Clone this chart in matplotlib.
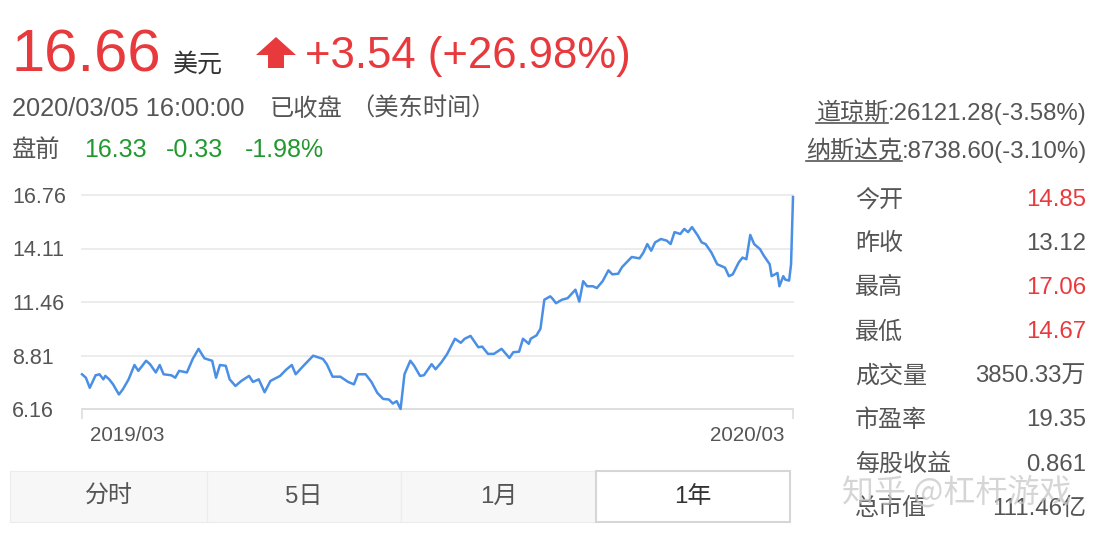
import numpy as np
import matplotlib
matplotlib.use("Agg")
import matplotlib.pyplot as plt
from matplotlib.patches import Rectangle, Polygon

plt.rcParams['font.family'] = ['Liberation Sans', 'Noto Sans CJK SC', 'DejaVu Sans']

## DATA

# days since 2019/03/05 and close price (USD)
DAYS = [0, 2, 4, 7, 9, 11, 12, 14, 16, 19, 21, 24, 27, 29, 33, 35, 38, 40, 42, 46,
        48, 50, 54, 57, 60, 63, 67, 69, 71, 74, 76, 79, 82, 86, 88, 91, 94, 97, 102, 105,
        108, 110, 114, 119, 124, 126, 129, 133, 137, 140, 142, 146, 149, 152, 155, 158, 160, 162, 164, 166,
        169, 171, 174, 176, 180, 182, 185, 188, 192, 195, 197, 200, 204, 206, 209, 212, 216, 220, 222, 225,
        227, 230, 231, 234, 236, 238, 241, 242, 244, 247, 250, 254, 256, 258, 260, 263, 265, 268, 271, 273,
        276, 278, 281, 283, 287, 289, 291, 293, 295, 298, 301, 303, 305, 308, 310, 312, 314, 317, 319, 321,
        324, 327, 331, 333, 335, 338, 340, 342, 344, 346, 349, 351, 354, 355, 358, 359, 361, 362, 364, 365,
        366]
PRICE = [7.88, 7.71, 7.21, 7.83, 7.88, 7.63, 7.80, 7.63, 7.38, 6.88, 7.13, 7.63, 8.34, 8.05, 8.55, 8.38, 7.97, 8.34, 7.88, 7.83,
         7.71, 8.05, 7.97, 8.64, 9.14, 8.67, 8.55, 7.71, 8.34, 8.30, 7.63, 7.30, 7.55, 7.80, 7.50, 7.63, 6.99, 7.55, 7.80, 8.10,
         8.34, 7.88, 8.30, 8.80, 8.64, 8.38, 7.76, 7.76, 7.50, 7.38, 7.88, 7.88, 7.50, 6.96, 6.66, 6.63, 6.43, 6.55, 6.16, 7.88,
         8.55, 8.30, 7.80, 7.83, 8.38, 8.13, 8.47, 8.89, 9.64, 9.44, 9.64, 9.78, 9.22, 9.25, 8.89, 8.89, 9.14, 8.69, 8.97, 9.00,
         9.64, 9.39, 9.64, 9.81, 10.14, 11.57, 11.74, 11.65, 11.40, 11.57, 11.65, 12.07, 11.48, 12.49, 12.24, 12.24, 12.15, 12.49, 13.03, 12.83,
         12.86, 13.19, 13.49, 13.69, 13.62, 13.91, 14.33, 14.00, 14.41, 14.58, 14.50, 14.33, 14.92, 14.83, 15.08, 14.92, 15.17, 14.75, 14.41, 14.33,
         13.91, 13.33, 13.16, 12.74, 12.83, 13.41, 13.66, 13.58, 14.78, 14.33, 14.08, 13.75, 13.33, 12.74, 12.90, 12.24, 12.74, 12.57, 12.52, 13.33,
         16.66]

Y_TICKS = [6.16, 8.81, 11.46, 14.11, 16.76]
X_LABELS = ["2019/03", "2020/03"]

STAT_NAMES = ["今开", "昨收", "最高", "最低", "成交量", "市盈率", "每股收益", "总市值"]
STAT_VALUES = ["14.85", "13.12", "17.06", "14.67", "3850.33万", "19.35", "0.861", "111.46亿"]
STAT_RED = [True, False, True, True, False, False, False, False]

INDEX_NAMES = ["道琼斯", "纳斯达克"]
INDEX_VALUES = [":26121.28(-3.58%)", ":8738.60(-3.10%)"]

TABS = ["分时", "5日", "1月", "1年"]

RED = '#e8393d'
GREEN = '#21992f'
GRAY = '#555555'
DARK = '#333333'
BLUE = '#4a8fe6'

W, H = 1108, 541

fig = plt.figure(figsize=(W / 100, H / 100), dpi=100)
fig.patch.set_facecolor('white')

# overlay axes in pixel coords for the page text
ax0 = fig.add_axes([0, 0, 1, 1])
ax0.set_xlim(0, W)
ax0.set_ylim(H, 0)
ax0.axis('off')

## header
ax0.text(12, 72, "16.66", color=RED, fontsize=43, va='baseline', ha='left')
ax0.text(173, 72, "美元", color=DARK, fontsize=18, va='baseline', ha='left')
arrow = Polygon([(276, 37), (296, 55), (284, 55), (284, 68), (268, 68), (268, 55), (256, 55)],
                closed=True, facecolor=RED, edgecolor='none')
ax0.add_patch(arrow)
ax0.text(305, 68, "+3.54 (+26.98%)", color=RED, fontsize=31.5, va='baseline', ha='left')

ax0.text(12, 116, "2020/03/05 16:00:00", color=GRAY, fontsize=18.3, va='baseline', ha='left')
ax0.text(270, 116, "已收盘", color=GRAY, fontsize=17.5, va='baseline', ha='left')
ax0.text(350, 116, "（美东时间）", color=GRAY, fontsize=17.5, va='baseline', ha='left')

ax0.text(12, 157, "盘前", color=GRAY, fontsize=17.5, va='baseline', ha='left')
ax0.text(84, 157, "16.33", color=GREEN, fontsize=18, va='baseline', ha='left')
ax0.text(166, 157, "-0.33", color=GREEN, fontsize=18, va='baseline', ha='left')
ax0.text(245, 157, "-1.98%", color=GREEN, fontsize=18, va='baseline', ha='left')

## index quotes, names underlined
fig.canvas.draw()
renderer = fig.canvas.get_renderer()
inv = ax0.transData.inverted()
for i, (name, val) in enumerate(zip(INDEX_NAMES, INDEX_VALUES)):
    yb = 120 + i * 38
    t_val = ax0.text(1087, yb, val, color=GRAY, fontsize=17.3, va='baseline', ha='right')
    bb = t_val.get_window_extent(renderer)
    x_left = inv.transform((bb.x0, bb.y0))[0]
    t_name = ax0.text(x_left, yb, name, color=GRAY, fontsize=17.3, va='baseline', ha='right')
    nb = t_name.get_window_extent(renderer)
    nx0 = inv.transform((nb.x0, nb.y0))[0]
    ax0.plot([nx0, x_left], [yb + 3, yb + 3], color=GRAY, lw=1.2)

## stats table
for i, (name, val, red) in enumerate(zip(STAT_NAMES, STAT_VALUES, STAT_RED)):
    yc = 200 + i * 44.1
    ax0.text(855, yc, name, color=GRAY, fontsize=17.3, va='center', ha='left')
    ax0.text(1086, yc, val, color=RED if red else GRAY, fontsize=17.3, va='center', ha='right')

## period tabs
tab_edges = [10, 207, 401, 596, 790]
for i, lab in enumerate(TABS):
    x0, x1 = tab_edges[i], tab_edges[i + 1]
    active = (i == len(TABS) - 1)
    rect = Rectangle((x0, 471), x1 - x0, 51,
                     facecolor='white' if active else '#f7f7f7',
                     edgecolor='#d6d6d6' if active else '#ececec',
                     lw=1.5 if active else 0.8, zorder=2 if active else 1)
    ax0.add_patch(rect)
    ax0.text((x0 + x1) / 2, 497, lab, color=DARK if active else GRAY,
             fontsize=17.3, va='center', ha='center', zorder=3)

## watermark
ax0.text(842, 492, "知乎 @杠杆游戏", color='#c8c8c8', alpha=0.75, fontsize=23,
         va='center', ha='left', zorder=5, family=['Noto Sans CJK SC', 'DejaVu Sans'])

## price chart
left, right = 82 / W, 793 / W
bottom, top = (H - 409) / H, (H - 195) / H
ax = fig.add_axes([left, bottom, right - left, top - bottom])
ax.set_facecolor('none')
ax.plot(DAYS, PRICE, color=BLUE, lw=1.8, clip_on=False, zorder=3)
ax.set_xlim(DAYS[0], DAYS[-1])
ax.set_ylim(Y_TICKS[0], Y_TICKS[-1])

ax.set_yticks(Y_TICKS)
ax.set_yticklabels(["%.2f" % v for v in Y_TICKS])
ax.tick_params(axis='y', length=0, pad=50.4, labelsize=15.5, labelcolor=GRAY)
for lbl in ax.get_yticklabels():
    lbl.set_horizontalalignment('left')
ax.grid(axis='y', color='#ebebeb', lw=1.3)
for gl in ax.get_ygridlines():
    gl.set_clip_on(False)

ax.set_xticks([DAYS[0], DAYS[-1]])
ax.set_xticklabels([])
ax.tick_params(axis='x', length=7, width=1.2, color='#dddddd', direction='out')
ax.annotate(X_LABELS[0], xy=(DAYS[0], 0), xycoords=('data', 'axes fraction'),
            xytext=(6, -19), textcoords='offset points', ha='left', va='center',
            fontsize=14.8, color=GRAY)
ax.annotate(X_LABELS[1], xy=(DAYS[-1], 0), xycoords=('data', 'axes fraction'),
            xytext=(-6, -19), textcoords='offset points', ha='right', va='center',
            fontsize=14.8, color=GRAY)

for s in ['top', 'left', 'right']:
    ax.spines[s].set_visible(False)
ax.spines['bottom'].set_color('#dddddd')
ax.spines['bottom'].set_linewidth(1.3)

fig.savefig("out.png", dpi=100, facecolor='white')
